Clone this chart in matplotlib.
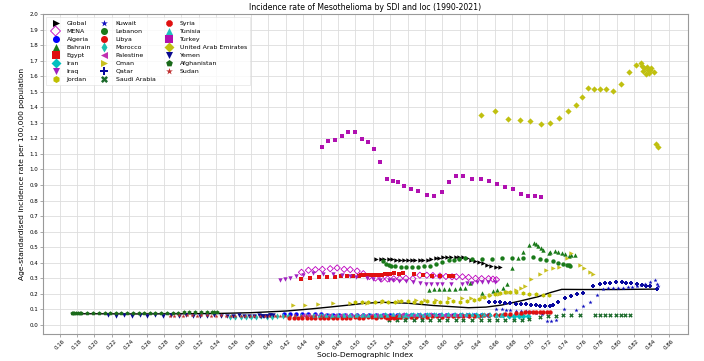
import numpy as np
import matplotlib
matplotlib.use("Agg")
import matplotlib.pyplot as plt

# --- data (SDI, age-standardised incidence per 100k) ---
global_sdi = [0.524, 0.529, 0.533, 0.538, 0.542, 0.547, 0.551, 0.556, 0.560, 0.565, 0.569, 0.574, 0.578, 0.583, 0.587, 0.592,
              0.596, 0.601, 0.605, 0.610, 0.615, 0.619, 0.624, 0.628, 0.633, 0.637, 0.642, 0.647, 0.651, 0.656, 0.661, 0.666]
global_val = [0.424, 0.425, 0.426, 0.425, 0.423, 0.421, 0.419, 0.418, 0.418, 0.417, 0.417, 0.418, 0.419, 0.421, 0.424, 0.428,
              0.432, 0.436, 0.438, 0.440, 0.439, 0.437, 0.434, 0.428, 0.420, 0.412, 0.404, 0.396, 0.388, 0.381, 0.375, 0.370]

mena_sdi = [0.438, 0.446, 0.454, 0.462, 0.471, 0.479, 0.487, 0.494, 0.502, 0.509, 0.516, 0.523, 0.530, 0.537, 0.544, 0.551,
            0.558, 0.566, 0.574, 0.582, 0.589, 0.597, 0.604, 0.611, 0.616, 0.623, 0.630, 0.638, 0.645, 0.653, 0.658, 0.662]
mena_val = [0.339, 0.352, 0.356, 0.358, 0.362, 0.367, 0.358, 0.356, 0.347, 0.330, 0.312, 0.302, 0.296, 0.296, 0.297, 0.298,
            0.300, 0.298, 0.320, 0.320, 0.318, 0.315, 0.312, 0.310, 0.310, 0.310, 0.306, 0.300, 0.298, 0.298, 0.295, 0.291]

algeria_sdi = [0.418, 0.425, 0.432, 0.439, 0.446, 0.453, 0.460, 0.467, 0.474, 0.481, 0.488, 0.495, 0.502, 0.509, 0.516, 0.524,
               0.532, 0.540, 0.548, 0.556, 0.564, 0.572, 0.580, 0.588, 0.596, 0.604, 0.612, 0.620, 0.628, 0.636, 0.644, 0.652]
algeria_val = [0.068, 0.069, 0.070, 0.071, 0.070, 0.069, 0.068, 0.067, 0.066, 0.066, 0.065, 0.066, 0.067, 0.066, 0.065, 0.064,
               0.065, 0.066, 0.067, 0.066, 0.065, 0.064, 0.064, 0.065, 0.066, 0.066, 0.067, 0.066, 0.065, 0.064, 0.064, 0.063]

bahrain_sdi = [0.584, 0.590, 0.596, 0.602, 0.608, 0.614, 0.620, 0.626, 0.632, 0.645, 0.658, 0.663, 0.670, 0.674, 0.680, 0.687,
               0.692, 0.699, 0.705, 0.707, 0.710, 0.713, 0.716, 0.722, 0.724, 0.729, 0.733, 0.737, 0.741, 0.745, 0.748, 0.752]
bahrain_val = [0.228, 0.229, 0.230, 0.231, 0.232, 0.233, 0.235, 0.238, 0.268, 0.204, 0.220, 0.225, 0.236, 0.264, 0.365, 0.429,
               0.470, 0.514, 0.529, 0.520, 0.508, 0.495, 0.482, 0.465, 0.470, 0.478, 0.470, 0.465, 0.455, 0.444, 0.448, 0.450]

egypt_sdi = [0.438, 0.448, 0.458, 0.467, 0.476, 0.483, 0.490, 0.497, 0.504, 0.506, 0.509, 0.511, 0.514, 0.516, 0.518, 0.520,
             0.523, 0.526, 0.528, 0.531, 0.534, 0.537, 0.540, 0.544, 0.550, 0.555, 0.567, 0.578, 0.588, 0.597, 0.607, 0.612]
egypt_val = [0.294, 0.300, 0.307, 0.307, 0.311, 0.313, 0.315, 0.315, 0.318, 0.321, 0.320, 0.322, 0.321, 0.323, 0.320, 0.322,
             0.321, 0.323, 0.322, 0.324, 0.325, 0.327, 0.330, 0.332, 0.331, 0.332, 0.326, 0.320, 0.317, 0.317, 0.317, 0.316]

iran_sdi = [0.462, 0.470, 0.478, 0.486, 0.494, 0.502, 0.510, 0.518, 0.526, 0.534, 0.542, 0.550, 0.558, 0.566, 0.574, 0.582,
            0.590, 0.598, 0.606, 0.614, 0.622, 0.630, 0.638, 0.646, 0.654, 0.662, 0.669, 0.676, 0.682, 0.688, 0.693, 0.698]
iran_val = [0.055, 0.057, 0.056, 0.058, 0.059, 0.057, 0.058, 0.060, 0.059, 0.061, 0.060, 0.062, 0.061, 0.063, 0.062, 0.061,
            0.063, 0.064, 0.062, 0.063, 0.064, 0.063, 0.062, 0.064, 0.063, 0.062, 0.061, 0.060, 0.059, 0.058, 0.057, 0.056]

iraq_sdi = [0.413, 0.419, 0.425, 0.432, 0.440, 0.451, 0.463, 0.474, 0.484, 0.494, 0.501, 0.513, 0.520, 0.528, 0.538, 0.543,
            0.550, 0.558, 0.566, 0.574, 0.581, 0.587, 0.594, 0.600, 0.610, 0.622, 0.628, 0.634, 0.640, 0.646, 0.652, 0.660]
iraq_val = [0.289, 0.297, 0.303, 0.315, 0.322, 0.332, 0.330, 0.328, 0.322, 0.315, 0.308, 0.302, 0.295, 0.287, 0.290, 0.289,
            0.285, 0.280, 0.275, 0.270, 0.266, 0.264, 0.264, 0.264, 0.264, 0.266, 0.268, 0.272, 0.274, 0.276, 0.277, 0.279]

jordan_sdi = [0.500, 0.507, 0.515, 0.522, 0.530, 0.537, 0.545, 0.552, 0.560, 0.567, 0.575, 0.582, 0.590, 0.597, 0.605, 0.612,
              0.620, 0.628, 0.636, 0.642, 0.648, 0.654, 0.660, 0.666, 0.672, 0.678, 0.685, 0.692, 0.700, 0.708, 0.716, 0.722]
jordan_val = [0.148, 0.150, 0.149, 0.151, 0.152, 0.150, 0.151, 0.153, 0.152, 0.150, 0.151, 0.152, 0.150, 0.149, 0.151, 0.152,
              0.150, 0.152, 0.160, 0.170, 0.180, 0.190, 0.200, 0.205, 0.210, 0.212, 0.210, 0.205, 0.200, 0.198, 0.196, 0.195]

kuwait_sdi = [0.662, 0.668, 0.673, 0.678, 0.684, 0.690, 0.696, 0.702, 0.708, 0.714, 0.720, 0.725, 0.731, 0.740, 0.754, 0.762,
              0.769, 0.777, 0.784, 0.790, 0.796, 0.802, 0.808, 0.813, 0.818, 0.823, 0.828, 0.833, 0.838, 0.844, 0.846, 0.848]
kuwait_val = [0.105, 0.100, 0.098, 0.095, 0.092, 0.090, 0.088, 0.085, 0.080, 0.070, 0.028, 0.025, 0.030, 0.100, 0.096, 0.120,
              0.150, 0.190, 0.230, 0.235, 0.238, 0.240, 0.240, 0.242, 0.245, 0.250, 0.255, 0.262, 0.275, 0.290, 0.262, 0.250]

lebanon_sdi = [0.532, 0.535, 0.538, 0.541, 0.546, 0.552, 0.558, 0.565, 0.572, 0.579, 0.586, 0.593, 0.600, 0.607, 0.613, 0.619,
               0.626, 0.634, 0.645, 0.657, 0.668, 0.680, 0.693, 0.704, 0.712, 0.719, 0.727, 0.733, 0.738, 0.743, 0.745, 0.747]
lebanon_val = [0.410, 0.395, 0.386, 0.380, 0.377, 0.375, 0.375, 0.375, 0.376, 0.378, 0.382, 0.392, 0.405, 0.415, 0.420, 0.425,
               0.428, 0.425, 0.424, 0.424, 0.428, 0.429, 0.429, 0.435, 0.426, 0.418, 0.410, 0.400, 0.392, 0.386, 0.383, 0.382]

libya_sdi = [0.552, 0.558, 0.564, 0.570, 0.576, 0.582, 0.588, 0.594, 0.600, 0.606, 0.612, 0.618, 0.624, 0.630, 0.636, 0.642,
             0.648, 0.654, 0.660, 0.666, 0.672, 0.678, 0.684, 0.690, 0.695, 0.700, 0.704, 0.708, 0.712, 0.716, 0.720, 0.724]
libya_val = [0.050, 0.052, 0.051, 0.053, 0.054, 0.052, 0.055, 0.056, 0.054, 0.057, 0.056, 0.058, 0.057, 0.059, 0.060, 0.058,
             0.061, 0.062, 0.064, 0.066, 0.068, 0.070, 0.075, 0.080, 0.083, 0.085, 0.086, 0.085, 0.084, 0.085, 0.086, 0.085]

morocco_sdi = [0.356, 0.362, 0.368, 0.374, 0.380, 0.386, 0.392, 0.398, 0.404, 0.410, 0.417, 0.423, 0.430, 0.437, 0.444, 0.451,
               0.458, 0.465, 0.472, 0.479, 0.486, 0.493, 0.500, 0.507, 0.514, 0.521, 0.528, 0.535, 0.542, 0.548, 0.554, 0.560]
morocco_val = [0.053, 0.052, 0.054, 0.053, 0.052, 0.054, 0.055, 0.053, 0.054, 0.055, 0.056, 0.055, 0.054, 0.056, 0.055, 0.057,
               0.056, 0.055, 0.057, 0.058, 0.056, 0.057, 0.058, 0.057, 0.058, 0.059, 0.058, 0.057, 0.058, 0.059, 0.058, 0.057]

palestine_sdi = [0.440, 0.446, 0.452, 0.458, 0.464, 0.470, 0.476, 0.482, 0.488, 0.494, 0.500, 0.506, 0.512, 0.518, 0.524, 0.530,
                 0.536, 0.542, 0.548, 0.554, 0.560, 0.566, 0.572, 0.578, 0.584, 0.590, 0.596, 0.602, 0.608, 0.614, 0.620, 0.626]
palestine_val = [0.063, 0.064, 0.062, 0.065, 0.064, 0.063, 0.066, 0.065, 0.064, 0.066, 0.067, 0.065, 0.064, 0.066, 0.065, 0.067,
                 0.066, 0.065, 0.067, 0.068, 0.066, 0.065, 0.067, 0.066, 0.068, 0.067, 0.066, 0.065, 0.067, 0.066, 0.065, 0.064]

oman_sdi = [0.428, 0.442, 0.457, 0.474, 0.494, 0.513, 0.530, 0.550, 0.570, 0.580, 0.592, 0.607, 0.622, 0.633, 0.645, 0.655,
            0.665, 0.675, 0.685, 0.690, 0.695, 0.702, 0.712, 0.719, 0.727, 0.734, 0.743, 0.748, 0.758, 0.763, 0.769, 0.773]
oman_val = [0.129, 0.130, 0.135, 0.139, 0.143, 0.143, 0.150, 0.155, 0.158, 0.160, 0.161, 0.172, 0.172, 0.172, 0.178, 0.190,
            0.200, 0.210, 0.225, 0.240, 0.250, 0.294, 0.328, 0.354, 0.365, 0.375, 0.429, 0.461, 0.386, 0.365, 0.343, 0.328]

qatar_sdi = [0.654, 0.660, 0.666, 0.672, 0.678, 0.684, 0.690, 0.696, 0.702, 0.708, 0.712, 0.718, 0.723, 0.727, 0.733, 0.741,
             0.748, 0.755, 0.762, 0.773, 0.781, 0.787, 0.793, 0.799, 0.806, 0.811, 0.817, 0.823, 0.829, 0.834, 0.838, 0.846]
qatar_val = [0.146, 0.146, 0.145, 0.144, 0.140, 0.137, 0.135, 0.133, 0.130, 0.127, 0.122, 0.120, 0.122, 0.130, 0.150, 0.172,
             0.186, 0.200, 0.208, 0.250, 0.265, 0.268, 0.272, 0.279, 0.279, 0.270, 0.268, 0.265, 0.258, 0.252, 0.250, 0.230]

saudi_sdi = [0.538, 0.548, 0.557, 0.567, 0.576, 0.586, 0.596, 0.605, 0.615, 0.624, 0.634, 0.644, 0.653, 0.663, 0.672, 0.682,
             0.691, 0.699, 0.712, 0.721, 0.730, 0.739, 0.748, 0.758, 0.775, 0.781, 0.787, 0.793, 0.799, 0.805, 0.810, 0.816]
saudi_val = [0.032, 0.031, 0.030, 0.031, 0.032, 0.031, 0.030, 0.031, 0.032, 0.031, 0.030, 0.031, 0.032, 0.033, 0.032, 0.033,
             0.034, 0.036, 0.050, 0.058, 0.060, 0.062, 0.064, 0.064, 0.064, 0.064, 0.064, 0.064, 0.064, 0.064, 0.064, 0.064]

syria_sdi = [0.424, 0.429, 0.434, 0.439, 0.444, 0.449, 0.454, 0.459, 0.464, 0.469, 0.474, 0.479, 0.484, 0.489, 0.494, 0.499,
             0.504, 0.509, 0.514, 0.519, 0.524, 0.529, 0.534, 0.539, 0.543, 0.547, 0.551, 0.548, 0.544, 0.540, 0.538, 0.536]
syria_val = [0.048, 0.046, 0.045, 0.047, 0.046, 0.045, 0.047, 0.048, 0.046, 0.045, 0.047, 0.048, 0.046, 0.047, 0.048, 0.049,
             0.047, 0.048, 0.050, 0.049, 0.048, 0.050, 0.051, 0.050, 0.052, 0.051, 0.050, 0.049, 0.048, 0.047, 0.048, 0.047]

tunisia_sdi = [0.452, 0.459, 0.466, 0.473, 0.480, 0.487, 0.494, 0.501, 0.508, 0.515, 0.522, 0.529, 0.536, 0.543, 0.550, 0.557,
               0.564, 0.571, 0.578, 0.585, 0.592, 0.599, 0.606, 0.613, 0.620, 0.627, 0.634, 0.641, 0.648, 0.655, 0.661, 0.667]
tunisia_val = [0.062, 0.063, 0.064, 0.062, 0.065, 0.064, 0.066, 0.065, 0.064, 0.066, 0.067, 0.065, 0.066, 0.068, 0.067, 0.066,
               0.068, 0.069, 0.067, 0.068, 0.069, 0.070, 0.068, 0.069, 0.070, 0.069, 0.068, 0.067, 0.069, 0.068, 0.067, 0.066]

turkey_sdi = [0.462, 0.469, 0.477, 0.485, 0.492, 0.499, 0.507, 0.514, 0.521, 0.528, 0.536, 0.543, 0.549, 0.556, 0.564, 0.572,
              0.582, 0.590, 0.599, 0.607, 0.616, 0.624, 0.634, 0.644, 0.653, 0.663, 0.672, 0.681, 0.690, 0.698, 0.706, 0.713]
turkey_val = [1.147, 1.181, 1.192, 1.217, 1.239, 1.243, 1.198, 1.177, 1.132, 1.048, 0.941, 0.924, 0.918, 0.896, 0.875, 0.864,
              0.838, 0.832, 0.855, 0.918, 0.958, 0.958, 0.939, 0.941, 0.924, 0.905, 0.887, 0.873, 0.842, 0.828, 0.828, 0.825]

uae_sdi = [0.644, 0.660, 0.675, 0.689, 0.701, 0.713, 0.724, 0.734, 0.744, 0.753, 0.760, 0.767, 0.774, 0.781, 0.788, 0.796,
           0.805, 0.814, 0.822, 0.828, 0.829, 0.831, 0.832, 0.834, 0.835, 0.836, 0.837, 0.839, 0.840, 0.843, 0.845, 0.848]
uae_val = [1.349, 1.376, 1.323, 1.316, 1.312, 1.291, 1.301, 1.333, 1.378, 1.417, 1.468, 1.524, 1.520, 1.516, 1.518, 1.505,
           1.548, 1.627, 1.674, 1.683, 1.665, 1.633, 1.650, 1.614, 1.661, 1.640, 1.620, 1.640, 1.655, 1.625, 1.166, 1.147]

yemen_sdi = [0.216, 0.225, 0.234, 0.243, 0.252, 0.261, 0.270, 0.279, 0.288, 0.297, 0.305, 0.313, 0.321, 0.329, 0.337, 0.345,
             0.352, 0.359, 0.366, 0.372, 0.378, 0.384, 0.389, 0.394, 0.398, 0.402, 0.405, 0.402, 0.398, 0.395, 0.392, 0.390]
yemen_val = [0.062, 0.058, 0.061, 0.057, 0.062, 0.058, 0.061, 0.057, 0.062, 0.058, 0.061, 0.058, 0.060, 0.058, 0.061, 0.058,
             0.060, 0.058, 0.061, 0.059, 0.060, 0.058, 0.061, 0.059, 0.060, 0.062, 0.063, 0.061, 0.060, 0.059, 0.058, 0.058]

afghan_sdi = [0.174, 0.176, 0.177, 0.179, 0.181, 0.183, 0.185, 0.192, 0.199, 0.205, 0.212, 0.218, 0.225, 0.231, 0.238, 0.244,
              0.251, 0.257, 0.264, 0.270, 0.277, 0.283, 0.290, 0.296, 0.303, 0.309, 0.316, 0.322, 0.329, 0.335, 0.338, 0.341]
afghan_val = [0.075, 0.075, 0.076, 0.075, 0.076, 0.076, 0.076, 0.077, 0.077, 0.077, 0.078, 0.078, 0.078, 0.078, 0.079, 0.079,
              0.079, 0.079, 0.079, 0.080, 0.080, 0.080, 0.080, 0.080, 0.081, 0.081, 0.081, 0.081, 0.082, 0.082, 0.082, 0.081]

sudan_sdi = [0.287, 0.292, 0.297, 0.302, 0.307, 0.312, 0.318, 0.323, 0.329, 0.334, 0.340, 0.345, 0.351, 0.357, 0.362, 0.368,
             0.373, 0.379, 0.384, 0.390, 0.396, 0.401, 0.407, 0.413, 0.419, 0.425, 0.431, 0.437, 0.443, 0.449, 0.454, 0.460]
sudan_val = [0.060, 0.059, 0.061, 0.060, 0.062, 0.061, 0.060, 0.062, 0.061, 0.060, 0.059, 0.061, 0.060, 0.058, 0.059, 0.060,
             0.058, 0.057, 0.058, 0.059, 0.060, 0.058, 0.057, 0.058, 0.059, 0.060, 0.061, 0.060, 0.059, 0.058, 0.057, 0.058]

# expected curve (black line) read at a few points
curve_sdi = [0.174, 0.20, 0.25, 0.30, 0.34, 0.38, 0.421, 0.45, 0.47, 0.494, 0.51, 0.53, 0.56, 0.59, 0.63, 0.65, 0.668,
             0.69, 0.71, 0.725, 0.737, 0.764, 0.80, 0.848]
curve_val = [0.072, 0.072, 0.071, 0.072, 0.074, 0.079, 0.090, 0.104, 0.115, 0.129, 0.139, 0.146, 0.140, 0.125, 0.111, 0.115,
             0.128, 0.155, 0.182, 0.210, 0.229, 0.228, 0.228, 0.231]

# (label, x, y, marker, color, hollow)
series = [
    ("Global", global_sdi, global_val, ">", "black", False),
    ("MENA", mena_sdi, mena_val, "D", "#bf00bf", True),
    ("Algeria", algeria_sdi, algeria_val, "o", "blue", False),
    ("Bahrain", bahrain_sdi, bahrain_val, "^", "#1a7a1a", False),
    ("Egypt", egypt_sdi, egypt_val, "s", "#e01010", False),
    ("Iran", iran_sdi, iran_val, "D", "#00bfbf", False),
    ("Iraq", iraq_sdi, iraq_val, "v", "#a020c0", False),
    ("Jordan", jordan_sdi, jordan_val, "h", "#bfbf00", False),
    ("Kuwait", kuwait_sdi, kuwait_val, "*", "#1010c0", False),
    ("Lebanon", lebanon_sdi, lebanon_val, "o", "#1a7a1a", False),
    ("Libya", libya_sdi, libya_val, "o", "#e01010", False),
    ("Morocco", morocco_sdi, morocco_val, "d", "#20c0b0", False),
    ("Palestine", palestine_sdi, palestine_val, "<", "#c030b0", False),
    ("Oman", oman_sdi, oman_val, ">", "#c8c020", False),
    ("Qatar", qatar_sdi, qatar_val, "P", "#0a0aa0", False),
    ("Saudi Arabia", saudi_sdi, saudi_val, "X", "#1a6a2a", False),
    ("Syria", syria_sdi, syria_val, "8", "#e01010", False),
    ("Tunisia", tunisia_sdi, tunisia_val, "^", "#20c0c0", False),
    ("Turkey", turkey_sdi, turkey_val, "s", "#b010b0", False),
    ("United Arab Emirates", uae_sdi, uae_val, "D", "#c0c010", False),
    ("Yemen", yemen_sdi, yemen_val, "v", "#0a0a90", False),
    ("Afghanistan", afghan_sdi, afghan_val, "p", "#1a6a1a", False),
    ("Sudan", sudan_sdi, sudan_val, "*", "#c03030", False),
]

fig = plt.figure(figsize=(7.04, 3.61), dpi=100)
ax = fig.add_axes([0.0611, 0.0748, 0.916, 0.8864])

ax.grid(True, color="#dddddd", linewidth=0.6, zorder=0)
ax.set_axisbelow(True)

ax.plot(curve_sdi, curve_val, color="black", linewidth=1.0, zorder=2)

for label, xs, ys, mk, col, hollow in series:
    if hollow:
        ax.scatter(xs, ys, s=10, marker=mk, facecolors="none", edgecolors=col, linewidths=0.6, label=label, zorder=3)
    else:
        ax.scatter(xs, ys, s=10, marker=mk, color=col, linewidths=0, label=label, zorder=3)

ax.set_xlim(0.141, 0.882)
ax.set_ylim(-0.058, 2.0)
ax.set_xticks(np.arange(0.16, 0.861, 0.02))
ax.set_yticks(np.arange(0.0, 2.01, 0.1))
ax.xaxis.set_major_formatter(matplotlib.ticker.FormatStrFormatter("%.2f"))
ax.yaxis.set_major_formatter(matplotlib.ticker.FormatStrFormatter("%.1f"))
ax.tick_params(axis="both", labelsize=4, length=2, width=0.5, pad=1.5, color="#888888")
plt.setp(ax.get_xticklabels(), rotation=45)

for sp in ax.spines.values():
    sp.set_color("#999999")
    sp.set_linewidth(0.8)

ax.set_title("Incidence rate of Mesothelioma by SDI and loc (1990-2021)", fontsize=5.6, pad=3)
ax.set_xlabel("Socio-Demographic Index", fontsize=5.4, labelpad=1)
ax.set_ylabel("Age-standardised incidence rate per 100,000 population", fontsize=5.4, labelpad=3)

leg = ax.legend(loc="upper left", ncol=3, fontsize=4.5, labelspacing=0.42, columnspacing=1.1,
                handletextpad=0.8, markerscale=1.6, borderpad=0.5, frameon=True, fancybox=False)
leg.get_frame().set_edgecolor("#dddddd")
leg.get_frame().set_linewidth(0.5)

fig.savefig("out.png", dpi=100)
